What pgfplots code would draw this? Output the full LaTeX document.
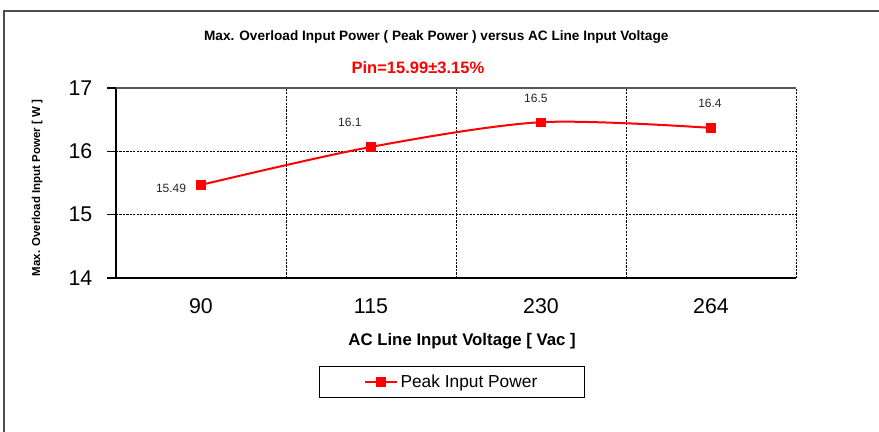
\documentclass[border=0pt]{standalone}
\usepackage{pgfplots}
\pgfplotsset{compat=1.18}
\usepackage{fontspec}
\setmainfont{Liberation Sans}
\begin{document}
\begin{tikzpicture}
\useasboundingbox (0,0) rectangle (659.25pt,324pt);
\fill[white] (0,0) rectangle (659.25pt,324pt);
\draw[gray!60!black, line width=0.8pt] (3pt,-5pt) -- (3pt,315.75pt) -- (680pt,315.75pt);
\begin{axis}[
  at={(87pt,115.5pt)}, anchor=south west,
  scale only axis, width=510pt, height=142.5pt,
  xmin=-0.5, xmax=3.5, ymin=14, ymax=17,
  xtick={0,1,2,3}, xticklabels={90,115,230,264},
  ytick={14,15,16,17},
  major x tick style={draw=none},
  extra x ticks={-0.5,0.5,1.5,2.5,3.5},
  extra x tick labels={},
  extra x tick style={xmajorgrids=true, major tick length=6pt, tick align=outside, major tick style={draw=black, line width=0.8pt}},
  ymajorgrids=true,
  grid style={black, line width=0.6pt, dash pattern=on 1.6pt off 1pt},
  axis x line*=bottom, axis y line*=left,
  axis line style={-, black, line width=0.8pt},
  y tick style={black, line width=0.8pt},
  tick align=outside, major tick length=6.5pt,
  tick label style={font=\fontsize{16}{18}\selectfont},
  /pgf/number format/assume math mode=true,
  xticklabel style={yshift=-5.75pt},
  yticklabel style={xshift=-7.75pt},
  xlabel={\bfseries AC Line Input Voltage [ Vac ]},
  xlabel style={at={(axis description cs:0.509,-0.332)}, anchor=center, font=\fontsize{12.6}{14}\selectfont},
  ylabel={\bfseries Max. Overload Input Power [ W ]},
  ylabel style={at={(axis description cs:-0.116,0.474)}, anchor=center, rotate=0, font=\fontsize{8.6}{10}\selectfont},
  title={\bfseries Max. Overload Input Power ( Peak Power ) versus AC Line Input Voltage},
  title style={at={(axis description cs:0.471,1.226)}, anchor=center, font=\fontsize{10.2}{12}\selectfont},
  legend style={at={(axis description cs:0.494,-0.547)}, anchor=center, draw=black, line width=0.6pt,
    inner xsep=33pt, inner ysep=4pt, font=\fontsize{13}{15}\selectfont},
  legend image code/.code={\draw[mark repeat=2, mark phase=2, #1] plot coordinates {(0pt,0pt) (12pt,0pt) (24pt,0pt)};},
  clip=false,
]
\addplot[red, line width=1.5pt, smooth, mark=square*, mark size=3.3pt, mark options={solid, fill=red, draw=red, line width=0.4pt}]
  coordinates {(0,15.47) (1,16.07) (2,16.46) (3,16.37)};
\addlegendentry{Peak Input Power}
\draw[gray!70!black, line width=0.8pt] (rel axis cs:0,1) -- (rel axis cs:1,1);
\node[font=\fontsize{12.4}{14}\selectfont\bfseries, text=red] at (axis description cs:0.444,1.105) {Pin=15.99±3.15\%};
\begin{scope}[every node/.style={font=\fontsize{9}{11}\selectfont, text=black!85}]
\node at (axis cs:-0.176,15.42) {15.49};
\node at (axis cs:0.876,16.45) {16.1};
\node at (axis cs:1.97,16.84) {16.5};
\node at (axis cs:2.994,16.75) {16.4};
\end{scope}
\end{axis}
\end{tikzpicture}
\end{document}
